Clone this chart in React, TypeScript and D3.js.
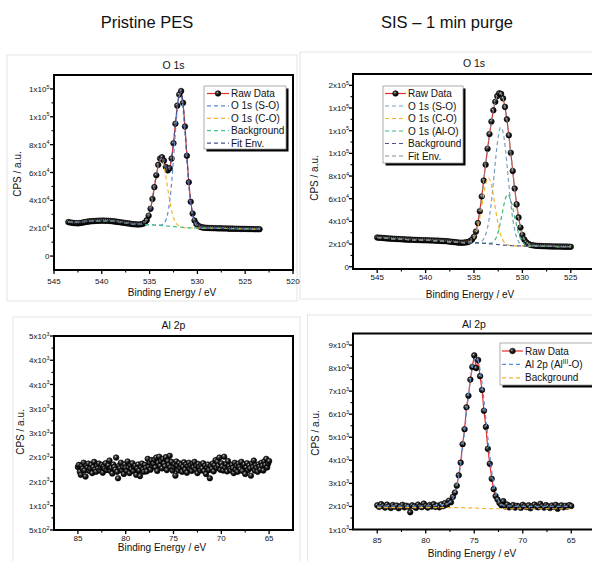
import React from "react";
import * as d3 from "d3";

const FONT = "'Liberation Sans', Arial, Helvetica, sans-serif";

// ---------- Panel A: Pristine PES, O 1s ----------
const rawA_start = 543.5;
const rawA_step = -0.2;
const rawA = [
  24400, 24100, 23900, 23700, 23600, 23500, 23700, 23900, 24200, 24400,
  24700, 24900, 25000, 25100, 25200, 25300, 25400, 25400, 25500, 25400,
  25400, 25300, 25200, 25000, 24900, 24700, 24500, 24300, 24100, 23900,
  23700, 23500, 23300, 23100, 22900, 22800, 22700, 22700, 22800, 23200,
  24000, 25800, 29000, 34000, 41000, 49500, 58000, 65500, 70000, 71000,
  68500, 64000, 61500, 63000, 70000, 81000, 95000, 108000, 116000, 118500,
  110000, 93000, 72000, 53000, 39000, 30500, 25500, 23000, 21700, 21000,
  20600, 20400, 20300, 20200, 20100, 20100, 20000, 20000, 19900, 19900,
  19900, 19800, 19800, 19800, 19700, 19700, 19700, 19600, 19600, 19600,
  19500, 19500, 19500, 19500, 19400, 19400, 19400, 19300, 19300, 19300,
  19300,
];
const fitXA = [543.5, 541, 539, 537, 536, 535.5, 535.25, 535, 534.75, 534.5, 534.25, 534, 533.75, 533.5, 533.25, 533, 532.75, 532.5, 532.25, 532, 531.75, 531.5, 531.25, 531, 530.75, 530.5, 530.25, 530, 529.5, 529, 528, 526, 523.5];
const soA = [24400, 25000, 25250, 23400, 22700, 22650, 22580, 22500, 22400, 22300, 22190, 22165, 22390, 23500, 26800, 34450, 48700, 69750, 93400, 111650, 116400, 105250, 83520, 59800, 41050, 29400, 23570, 21220, 20160, 20050, 19950, 19650, 19300];
const coA = [24400, 25000, 25250, 23400, 22855, 24220, 26560, 31230, 38900, 49200, 59980, 67850, 69750, 64900, 55150, 43950, 34300, 27650, 23800, 21890, 21030, 20640, 20440, 20300, 20250, 20200, 20170, 20150, 20100, 20050, 19950, 19650, 19300];
const bgA = [24400, 25000, 25250, 23400, 22700, 22650, 22580, 22500, 22400, 22300, 22180, 22050, 21900, 21750, 21600, 21450, 21300, 21150, 21000, 20850, 20700, 20550, 20420, 20300, 20250, 20200, 20170, 20150, 20100, 20050, 19950, 19650, 19300];
const envA = [24400, 25000, 25250, 23400, 22900, 24000, 26500, 31000, 39000, 49500, 60000, 68000, 70800, 68500, 63500, 61500, 68000, 81000, 98500, 112500, 118000, 110000, 88000, 62000, 42000, 30500, 24800, 22300, 20600, 20250, 20000, 19650, 19300];
const xTicksA = [545, 540, 535, 530, 525, 520];
const yTicksA = [0, 20000, 40000, 60000, 80000, 100000, 120000];
const yLabelsA = ["0", "2x10^4", "4x10^4", "6x10^4", "8x10^4", "1x10^5", "1x10^5"];

// ---------- Panel B: SIS 1 min purge, O 1s ----------
const rawB_start = 545;
const rawB_step = -0.2;
const rawB = [
  25800, 25600, 25500, 25300, 25200, 25000,
  24900, 24800, 24700, 24600, 24500,
  24400, 24300, 24200, 24100, 24000,
  23900, 23900, 23800, 23700, 23600,
  23600, 23500, 23400, 23400, 23300,
  23300, 23200, 23200, 23100, 23000,
  23000, 22900, 22800, 22700, 22600,
  22500, 22300, 22100, 21900, 21700,
  21500, 21300, 21200, 21200, 21300,
  21500, 21900, 22700, 24000, 26500,
  31000, 38500, 49000, 62000, 76000,
  90000, 104000, 117000, 128000, 138000,
  145500, 150500, 153000, 152500, 148500,
  141000, 130000, 116000, 100500, 84500,
  69000, 55000, 43500, 34500, 28000,
  24000, 21600, 20200, 19400, 19000,
  18700, 18500, 18400, 18300, 18200,
  18100, 18100, 18000, 18000, 17900,
  17900, 17900, 17800, 17800, 17800,
  17700, 17700, 17700, 17600, 17600,
];
const fitXB = [545, 542, 539, 537, 536, 535.5, 535.25, 535, 534.75, 534.5, 534.25, 534, 533.75, 533.5, 533.25, 533, 532.75, 532.5, 532.25, 532, 531.75, 531.5, 531.25, 531, 530.75, 530.5, 530.25, 530, 529.75, 529.5, 529.25, 529, 528.5, 528, 526.5, 525];
const soB = [25800, 24000, 23000, 21700, 21250, 21200, 21158, 21135, 21185, 21420, 22280, 24520, 29500, 38900, 53950, 74050, 96150, 114400, 123000, 118940, 103550, 81900, 60050, 42400, 30600, 23800, 20450, 18995, 18428, 18211, 18120, 18100, 18050, 18000, 17800, 17600];
const coB = [25800, 24000, 23000, 21700, 21285, 21710, 22700, 25150, 30180, 38720, 50650, 63850, 74410, 78350, 74010, 63100, 49550, 37270, 28430, 23150, 20500, 19310, 18795, 18535, 18400, 18350, 18300, 18250, 18200, 18150, 18120, 18100, 18050, 18000, 17800, 17600];
const alB = [25800, 24000, 23000, 21700, 21250, 21200, 21150, 21100, 21050, 20950, 20850, 20700, 20550, 20524, 20790, 21930, 24890, 30720, 39900, 50900, 60210, 63800, 59910, 52000, 42000, 33000, 26000, 22000, 19800, 18800, 18400, 18250, 18100, 18000, 17800, 17600];
const bgB = [25800, 24000, 23000, 21700, 21250, 21200, 21150, 21100, 21050, 20950, 20850, 20700, 20550, 20350, 20150, 19950, 19750, 19500, 19300, 19100, 18950, 18800, 18650, 18500, 18400, 18350, 18300, 18250, 18200, 18150, 18120, 18100, 18050, 18000, 17800, 17600];
const envB = [25800, 24000, 23000, 21700, 21300, 21800, 23400, 26500, 32500, 43500, 58500, 76000, 93500, 110500, 125300, 138000, 147000, 152000, 152800, 148500, 138500, 123000, 104000, 84500, 65500, 49000, 36500, 28000, 23300, 20800, 19600, 19000, 18450, 18200, 17850, 17600];
const xTicksB = [545, 540, 535, 530, 525];
const yTicksB = [0, 20000, 40000, 60000, 80000, 100000, 120000, 140000, 160000];
const yLabelsB = ["0", "2x10^4", "4x10^4", "6x10^4", "8x10^4", "1x10^5", "1x10^5", "1x10^5", "2x10^5"];

// ---------- Panel C: Pristine PES, Al 2p ----------
const rawC_start = 85;
const rawC_step = -0.1;
const rawC = [
  1960, 2010, 1850, 1780, 1990, 1920, 2060, 1880, 1740, 2000,
  1950, 2040, 1870, 1930, 2010, 1820, 1960, 2080, 1900, 1850,
  1990, 1930, 2040, 1880, 1950, 2010, 1830, 1970, 1920, 2050,
  1890, 1960, 2000, 2110, 1870, 1940, 1810, 2020, 1960, 1900,
  2180, 1850, 1700, 1990, 1930, 2060, 1880, 1960, 1800, 2020,
  1940, 1870, 2090, 1950, 1820, 2000, 1910, 2050, 1870, 1960,
  1990, 1780, 1930, 2020, 1880, 1750, 1960, 2040, 1900, 1850,
  2010, 1940, 1860, 2150, 1970, 2060, 1900, 2120, 1990, 2040,
  2130, 1950, 2180, 1870, 2060, 2200, 1990, 2100, 1930, 2150,
  2040, 1980, 2190, 1890, 2100, 2010, 2220, 1950, 2080, 1880,
  1960, 2030, 1760, 2090, 1990, 1880, 2050, 1940, 2010, 1850,
  1970, 2070, 1900, 2020, 1830, 1980, 2060, 1920, 2000, 1870,
  2040, 1950, 2080, 1900, 1990, 1820, 2030, 1960, 1880, 2010,
  1930, 2050, 1870, 1990, 1800, 1950, 2020, 1890, 1700, 1980,
  1920, 2040, 1860, 2000, 2120, 1940, 2080, 1990, 2180, 1900,
  2050, 1970, 1880, 2200, 1950, 2030, 1860, 2100, 1980, 1920,
  1880, 2010, 1940, 1820, 2060, 1900, 1990, 1850, 2040, 1960,
  1910, 2080, 1870, 1990, 2020, 1800, 1950, 2050, 1890, 2000,
  1930, 1760, 2040, 1960, 2110, 1880, 2000, 1940, 1850, 2020,
  1970, 1900, 2060, 1990, 1880, 2090, 2010, 2150, 1950, 2040,
  2100,
];
const xTicksC = [85, 80, 75, 70, 65];
const yTicksC = [500, 1062.5, 1625, 2187.5, 2750, 3312.5, 3875, 4437.5, 5000];
const yLabelsC = ["5x10^2", "1x10^3", "2x10^3", "2x10^3", "3x10^3", "3x10^3", "4x10^3", "4x10^3", "5x10^3"];

// ---------- Panel D: SIS 1 min purge, Al 2p ----------
const rawD_start = 85;
const rawD_step = -0.2;
const rawD = [
  2050, 1980, 2100, 2020, 1950, 2080, 2000, 1930, 2060, 1990,
  2040, 1920, 2010, 2070, 1960, 2030, 1990, 1750, 2050, 2000,
  1940, 2080, 2010, 1970, 2120, 2020, 1950, 2060, 2000, 2100,
  1980, 2040, 1960, 2090, 2010, 2150, 2070, 2250, 2180, 2420,
  2600, 2900, 3350, 3900, 4700, 5350, 6300, 6800, 7500, 8050,
  8550, 8000, 8350, 7650, 7050, 6150, 5450, 4500, 3850, 3200,
  2750, 2450, 2300, 2150, 2050, 2230, 2000, 2080, 1960, 2010,
  2060, 1950, 2030, 2000, 1940, 2070, 2010, 1970, 2050, 1920,
  2020, 2080, 1990, 1960, 2110, 2010, 1950, 2060, 2000, 1930,
  2040, 1980, 2070, 1900, 2010, 2050, 1960, 2030, 1990, 2060,
  2020,
];
const fitXD = [85, 80, 78, 77.5, 77, 76.75, 76.5, 76.25, 76, 75.75, 75.5, 75.25, 75, 74.75, 74.5, 74.25, 74, 73.75, 73.5, 73.25, 73, 72.75, 72.5, 72, 70, 65];
const fitD = [2010, 2020, 2100, 2200, 2550, 2950, 3550, 4350, 5250, 6250, 7150, 7900, 8350, 8450, 8150, 7500, 6600, 5600, 4600, 3700, 3000, 2550, 2250, 2050, 2000, 2000];
const bgXD = [85, 77, 76, 75, 74, 73, 65];
const bgD = [1950, 1950, 1945, 1930, 1910, 1900, 1900];
const xTicksD = [85, 80, 75, 70, 65];
const yTicksD = [1000, 2000, 3000, 4000, 5000, 6000, 7000, 8000, 9000];
const yLabelsD = ["1x10^3", "2x10^3", "3x10^3", "4x10^3", "5x10^3", "6x10^3", "7x10^3", "8x10^3", "9x10^3"];

// ---------- colours ----------
const RED = "#e0302c";
const BLUE = "#5b8ed0";
const YELLOW = "#f3b530";
const GREEN = "#44c48a";
const NAVY = "#4d528f";
const STEEL = "#7b9fc2";
const GREEN2 = "#3bb878";
const GRAY = "#8c8c8c";

type Fit = { xs: number[]; ys: number[]; color: string };
type LegendItem = { label: React.ReactNode; color: string; raw?: boolean };
type Legend = { x: number; y: number; w: number; h: number; row0: number; dy: number; s0: number; s1: number; tx: number; items: LegendItem[] };
type Cfg = {
  id: string;
  left: number; top: number; right: number; bottom: number;
  xDomain: [number, number]; yDomain: [number, number];
  xTicks: number[]; yTicks: number[]; yLabels: string[];
  title: string; titleX: number; titleY: number;
  xTitleX: number; xTitleY: number; yTitleX: number; yTitleY: number;
  xTickY: number; yTickX: number;
  raw: { start: number; step: number; ys: number[] };
  rawLine: boolean;
  fits: Fit[];
  legend?: Legend;
};

function Pow({ s, x, y, anchor, size }: { s: string; x: number; y: number; anchor: string; size: number }) {
  const parts = s.split("^");
  return (
    <text x={x} y={y} textAnchor={anchor} fontSize={size} fontFamily={FONT} fill="#111">
      <tspan>{parts[0]}</tspan>
      {parts[1] !== undefined && (
        <tspan dy={-3.3} fontSize={size * 0.68}>{parts[1]}</tspan>
      )}
    </text>
  );
}

function Ball({ cx, cy, r }: { cx: number; cy: number; r: number }) {
  return <circle cx={cx} cy={cy} r={r} fill="url(#ballGrad)" stroke="#000" strokeWidth={0.6} />;
}

function minorsOf(ticks: number[], dom: [number, number]) {
  const lo = Math.min(dom[0], dom[1]);
  const hi = Math.max(dom[0], dom[1]);
  const out: number[] = [];
  const step = ticks[1] - ticks[0];
  const ext = [ticks[0] - step, ...ticks, ticks[ticks.length - 1] + step];
  for (let i = 0; i < ext.length - 1; i++) {
    const m = (ext[i] + ext[i + 1]) / 2;
    if (m > lo + 1e-9 && m < hi - 1e-9) out.push(m);
  }
  return out;
}

function Panel({ c }: { c: Cfg }) {
  const x = d3.scaleLinear().domain(c.xDomain).range([c.left, c.right]);
  const y = d3.scaleLinear().domain(c.yDomain).range([c.bottom, c.top]);
  const pts: [number, number][] = c.raw.ys.map((v, i) => [c.raw.start + i * c.raw.step, v]);
  const rawPath = d3.line<[number, number]>().x((d) => x(d[0])).y((d) => y(d[1]))(pts) || "";
  const fitLine = d3
    .line<[number, number]>()
    .x((d) => x(d[0]))
    .y((d) => y(d[1]))
    .curve(d3.curveMonotoneX);
  const xMin = minorsOf(c.xTicks, c.xDomain);
  const yMin = minorsOf(c.yTicks, c.yDomain);
  const clip = `clip-${c.id}`;
  const L = c.legend;
  return (
    <g>
      <defs>
        <clipPath id={clip}>
          <rect x={c.left} y={c.top} width={c.right - c.left} height={c.bottom - c.top} />
        </clipPath>
      </defs>
      <text x={c.titleX} y={c.titleY} textAnchor="middle" fontSize={10.5} fontFamily={FONT} fill="#111">
        {c.title}
      </text>
      <g clipPath={`url(#${clip})`}>
        {c.rawLine && <path d={rawPath} fill="none" stroke={RED} strokeWidth={1.2} />}
        {pts.map((d, i) => (
          <Ball key={i} cx={x(d[0])} cy={y(d[1])} r={2.8} />
        ))}
        {c.fits.map((f, i) => (
          <path
            key={i}
            d={fitLine(f.xs.map((v, j) => [v, f.ys[j]] as [number, number])) || ""}
            fill="none"
            stroke={f.color}
            strokeWidth={1.2}
            strokeDasharray="4 3"
          />
        ))}
      </g>
      <rect x={c.left} y={c.top} width={c.right - c.left} height={c.bottom - c.top} fill="none" stroke="#000" strokeWidth={2} />
      {c.yTicks.map((t, i) => (
        <g key={"yt" + i}>
          <line x1={c.left - 4} x2={c.left} y1={y(t)} y2={y(t)} stroke="#000" strokeWidth={1.3} />
          <Pow s={c.yLabels[i]} x={c.yTickX} y={y(t) + 3} anchor="end" size={8} />
        </g>
      ))}
      {yMin.map((t, i) => (
        <line key={"ym" + i} x1={c.left - 2.5} x2={c.left} y1={y(t)} y2={y(t)} stroke="#000" strokeWidth={1.1} />
      ))}
      {c.xTicks.map((t, i) => (
        <g key={"xt" + i}>
          <line x1={x(t)} x2={x(t)} y1={c.bottom} y2={c.bottom + 4} stroke="#000" strokeWidth={1.3} />
          <text x={x(t)} y={c.xTickY} textAnchor="middle" fontSize={8} fontFamily={FONT} fill="#111">
            {t}
          </text>
        </g>
      ))}
      {xMin.map((t, i) => (
        <line key={"xm" + i} x1={x(t)} x2={x(t)} y1={c.bottom} y2={c.bottom + 2.5} stroke="#000" strokeWidth={1.1} />
      ))}
      <text x={c.xTitleX} y={c.xTitleY} textAnchor="middle" fontSize={10} fontFamily={FONT} fill="#111">
        Binding Energy / eV
      </text>
      <text
        transform={`translate(${c.yTitleX},${c.yTitleY}) rotate(-90)`}
        textAnchor="middle"
        fontSize={10}
        fontFamily={FONT}
        fill="#111"
      >
        CPS / a.u.
      </text>
      {L && (
        <g>
          <rect x={L.x + 2.5} y={L.y + 2.5} width={L.w} height={L.h} fill="#000" />
          <rect x={L.x} y={L.y} width={L.w} height={L.h} fill="#fff" stroke="#9a9a9a" strokeWidth={0.8} />
          {L.items.map((it, i) => {
            const yy = L.row0 + i * L.dy;
            return (
              <g key={"lg" + i}>
                <line
                  x1={L.s0}
                  x2={L.s1}
                  y1={yy}
                  y2={yy}
                  stroke={it.color}
                  strokeWidth={1.2}
                  strokeDasharray={it.raw ? undefined : "4 3"}
                />
                {it.raw && <Ball cx={(L.s0 + L.s1) / 2} cy={yy} r={2.8} />}
                <text x={L.tx} y={yy + 3.5} fontSize={10} fontFamily={FONT} fill="#111">
                  {it.label}
                </text>
              </g>
            );
          })}
        </g>
      )}
    </g>
  );
}

const panelA: Cfg = {
  id: "a",
  left: 54, top: 75, right: 293, bottom: 270,
  xDomain: [545, 520], yDomain: [-10000, 130000],
  xTicks: xTicksA, yTicks: yTicksA, yLabels: yLabelsA,
  title: "O 1s", titleX: 173.5, titleY: 68.5,
  xTitleX: 172, xTitleY: 295.5, yTitleX: 21, yTitleY: 174,
  xTickY: 283.5, yTickX: 49.5,
  raw: { start: rawA_start, step: rawA_step, ys: rawA },
  rawLine: true,
  fits: [
    { xs: fitXA, ys: soA, color: BLUE },
    { xs: fitXA, ys: coA, color: YELLOW },
    { xs: fitXA, ys: bgA, color: GREEN },
    { xs: fitXA, ys: envA, color: NAVY },
  ],
  legend: {
    x: 204, y: 86, w: 82, h: 63, row0: 93.5, dy: 12.4, s0: 207, s1: 229, tx: 231,
    items: [
      { label: "Raw Data", color: RED, raw: true },
      { label: "O 1s (S-O)", color: BLUE },
      { label: "O 1s (C-O)", color: YELLOW },
      { label: "Background", color: GREEN },
      { label: "Fit Env.", color: NAVY },
    ],
  },
};

const panelB: Cfg = {
  id: "b",
  left: 353, top: 74, right: 595, bottom: 269,
  xDomain: [547.5, 522.5], yDomain: [-2000, 170000],
  xTicks: xTicksB, yTicks: yTicksB, yLabels: yLabelsB,
  title: "O 1s", titleX: 474, titleY: 66.5,
  xTitleX: 470, xTitleY: 297.5, yTitleX: 318, yTitleY: 178,
  xTickY: 280, yTickX: 349,
  raw: { start: rawB_start, step: rawB_step, ys: rawB },
  rawLine: true,
  fits: [
    { xs: fitXB, ys: soB, color: STEEL },
    { xs: fitXB, ys: coB, color: YELLOW },
    { xs: fitXB, ys: alB, color: GREEN2 },
    { xs: fitXB, ys: bgB, color: NAVY },
    { xs: fitXB, ys: envB, color: GRAY },
  ],
  legend: {
    x: 383, y: 86, w: 80, h: 77, row0: 93.5, dy: 12.5, s0: 385, s1: 406, tx: 408,
    items: [
      { label: "Raw Data", color: RED, raw: true },
      { label: "O 1s (S-O)", color: STEEL },
      { label: "O 1s (C-O)", color: YELLOW },
      { label: "O 1s (Al-O)", color: GREEN2 },
      { label: "Background", color: NAVY },
      { label: "Fit Env.", color: GRAY },
    ],
  },
};

const panelC: Cfg = {
  id: "c",
  left: 54, top: 336, right: 293, bottom: 530,
  xDomain: [87.5, 62.5], yDomain: [500, 5000],
  xTicks: xTicksC, yTicks: yTicksC, yLabels: yLabelsC,
  title: "Al 2p", titleX: 173.5, titleY: 328.5,
  xTitleX: 162, xTitleY: 550.5, yTitleX: 24, yTitleY: 432,
  xTickY: 540.5, yTickX: 49.5,
  raw: { start: rawC_start, step: rawC_step, ys: rawC },
  rawLine: false,
  fits: [],
};

const panelD: Cfg = {
  id: "d",
  left: 353, top: 333.5, right: 595.5, bottom: 529.5,
  xDomain: [87.5, 62.5], yDomain: [1000, 9500],
  xTicks: xTicksD, yTicks: yTicksD, yLabels: yLabelsD,
  title: "Al 2p", titleX: 474, titleY: 327.5,
  xTitleX: 472, xTitleY: 556.5, yTitleX: 319, yTitleY: 433,
  xTickY: 542.5, yTickX: 349,
  raw: { start: rawD_start, step: rawD_step, ys: rawD },
  rawLine: true,
  fits: [
    { xs: fitXD, ys: fitD, color: BLUE },
    { xs: bgXD, ys: bgD, color: YELLOW },
  ],
  legend: {
    x: 500, y: 343, w: 96, h: 42, row0: 351, dy: 13.4, s0: 502, s1: 523, tx: 525,
    items: [
      { label: "Raw Data", color: RED, raw: true },
      {
        label: (
          <>
            <tspan>Al 2p (Al</tspan>
            <tspan dy={-4} fontSize={6.5}>III</tspan>
            <tspan dy={4}>-O)</tspan>
          </>
        ),
        color: BLUE,
      },
      { label: "Background", color: YELLOW },
    ],
  },
};

export default function App() {
  return (
    <svg
      width={592}
      height={561}
      viewBox="0 0 592 561"
      style={{ position: "absolute", left: 0, top: 0, background: "#fff" }}
    >
      <defs>
        <radialGradient id="ballGrad" cx="38%" cy="34%" r="65%">
          <stop offset="0" stopColor="#d8d8d8" />
          <stop offset="0.22" stopColor="#555" />
          <stop offset="0.6" stopColor="#141414" />
          <stop offset="1" stopColor="#000" />
        </radialGradient>
      </defs>
      <rect x={0} y={0} width={592} height={561} fill="#fff" />
      <rect x={7} y={55} width={290} height={246} fill="none" stroke="#e4e4e4" strokeWidth={1} />
      <rect x={300} y={52} width={300} height={247} fill="none" stroke="#e4e4e4" strokeWidth={1} />
      <rect x={13} y={317} width={287} height={260} fill="none" stroke="#e4e4e4" strokeWidth={1} />
      <rect x={307.5} y={315} width={300} height={260} fill="none" stroke="#e4e4e4" strokeWidth={1} />
      <text x={147} y={28} textAnchor="middle" fontSize={16.5} fontFamily={FONT} fill="#111">
        Pristine PES
      </text>
      <text x={447} y={28} textAnchor="middle" fontSize={16.5} fontFamily={FONT} fill="#111">
        SIS – 1 min purge
      </text>
      <Panel c={panelA} />
      <Panel c={panelB} />
      <Panel c={panelC} />
      <Panel c={panelD} />
    </svg>
  );
}
